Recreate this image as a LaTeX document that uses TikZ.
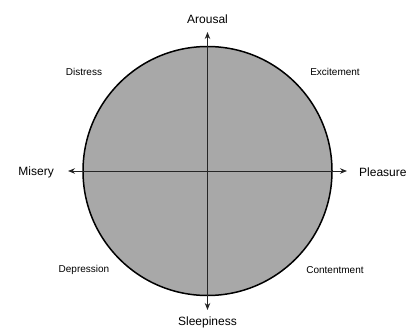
\documentclass[tikz,border=0pt]{standalone}
\usepackage{fontspec}
\setmainfont{Liberation Sans}
\usetikzlibrary{arrows.meta}
\begin{document}
\begin{tikzpicture}[x=1pt,y=-1pt,
  axislab/.style={font=\fontsize{12}{14}\selectfont, inner sep=0pt},
  quadlab/.style={font=\fontsize{10}{12}\selectfont, inner sep=0pt},
  axis/.style={draw=black!85, line width=0.9pt, -{Stealth[length=7pt,width=5.5pt]}},
  disc/.style={draw=black, line width=1.5pt, fill=black!34}]
\useasboundingbox (0,0) rectangle (411,329);
\coordinate (c) at (207.5,171);
\path[disc] (c) circle[radius=124.5];
\coordinate (t) at (207.5,32);
\coordinate (b) at (207.5,310);
\coordinate (l) at (68,171);
\coordinate (r) at (347,171);
\draw[axis] (c) -- (t);
\draw[axis] (c) -- (b);
\draw[axis] (c) -- (l);
\draw[axis] (c) -- (r);
\node[axislab] (arousal) at (207.5,19) {Arousal};
\node[axislab] (sleep) at (207.5,322) {Sleepiness};
\node[axislab, anchor=east] (misery) at (54,172) {Misery};
\node[axislab, anchor=west] (pleasure) at (359,172) {Pleasure};
\node[quadlab] (distress) at (84,72) {Distress};
\node[quadlab] (excite) at (335,72) {Excitement};
\node[quadlab] (depress) at (84,270) {Depression};
\node[quadlab] (content) at (335,270) {Contentment};
\end{tikzpicture}
\end{document}
